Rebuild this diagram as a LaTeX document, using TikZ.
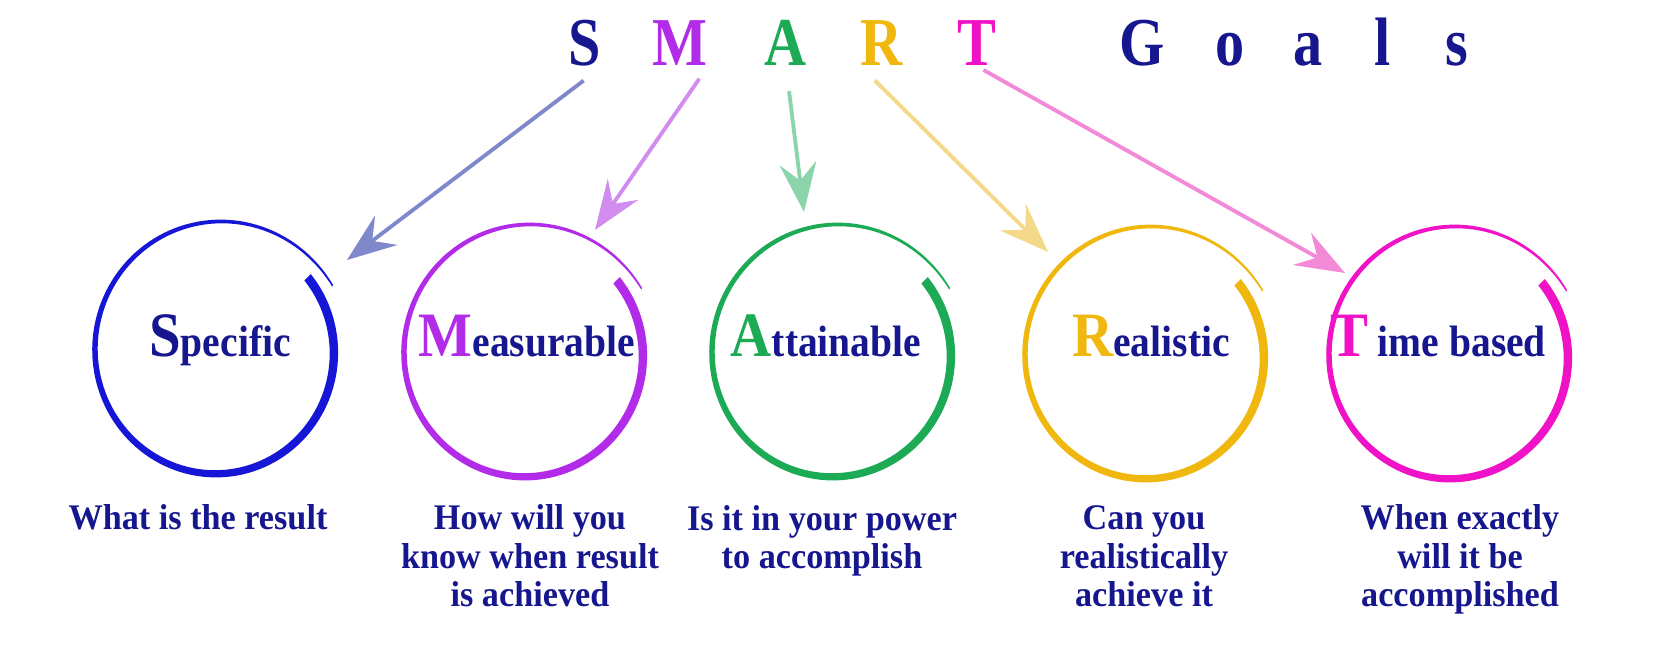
\documentclass[tikz,border=0pt]{standalone}
\usepackage{fontspec}
\setmainfont{Liberation Serif}
\newfontfamily\titlefont{Liberation Serif}[FakeStretch=0.85]
\newfontfamily\ringfont{Liberation Serif}[FakeStretch=0.9]
\newfontfamily\descfont{Liberation Serif}[FakeStretch=0.95]
\usetikzlibrary{arrows.meta}

\definecolor{navy}{HTML}{16168F}
\definecolor{sblue}{HTML}{1616D6}
\definecolor{mpurple}{HTML}{B12BE8}
\definecolor{agreen}{HTML}{1CAA55}
\definecolor{ryellow}{HTML}{F0B70F}
\definecolor{tpink}{HTML}{F012C6}
\definecolor{sarrow}{HTML}{8088CC}
\definecolor{marrow}{HTML}{D28CF0}
\definecolor{aarrow}{HTML}{8CD4AA}
\definecolor{rarrow}{HTML}{F4D98A}
\definecolor{tarrow}{HTML}{F28AD8}

\tikzset{
  titleletter/.style={font=\titlefont\bfseries\fontsize{39}{41}\selectfont, anchor=base, inner sep=0pt, text=navy},
  ringtext/.style={font=\ringfont\bfseries\fontsize{25}{28}\selectfont, anchor=base, inner sep=0pt, text=navy},
  desc/.style={font=\descfont\bfseries\fontsize{20.5}{22}\selectfont, align=center, anchor=base, inner sep=0pt, text=navy},
  goalarrow/.style={line width=2.2pt,
    -{Stealth[length=28pt, width=21pt, inset=10pt]}},
}

% 大首字母：#1 颜色, #2 字母
\newcommand{\goalinit}[2]{{\fontsize{36}{38}\selectfont\color{#1}#2}}

% 画笔圆环：#1 圆心, #2 颜色
\def\ringR{125}
\newcommand{\goalring}[2]{%
  \begin{scope}[shift={(#1)}, yscale=1.025]
    \fill[#2]
      plot[variable=\t, domain=0:1, samples=140]
        ({(\ringR*(0.93+0.05*\t+0.08*\t*\t*\t)+0.75+3.75*(1-\t)^0.7)*cos(39-370*\t)},
         {(\ringR*(0.93+0.05*\t+0.08*\t*\t*\t)+0.75+3.75*(1-\t)^0.7)*sin(39-370*\t)})
      -- plot[variable=\t, domain=1:0, samples=140]
        ({(\ringR*(0.93+0.05*\t+0.08*\t*\t*\t)-0.75-3.75*(1-\t)^0.7)*cos(39-370*\t)},
         {(\ringR*(0.93+0.05*\t+0.08*\t*\t*\t)-0.75-3.75*(1-\t)^0.7)*sin(39-370*\t)})
      -- cycle;
  \end{scope}%
}

\begin{document}
\begin{tikzpicture}[x=0.02cm, y=0.02cm]

\useasboundingbox (0,0) rectangle (1680,645);

%-----------------------
% 标题：S M A R T  G o a l s
%-----------------------
\node[titleletter]               (tS) at (585,579)  {S};
\node[titleletter, text=mpurple] (tM) at (680,579)  {M};
\node[titleletter, text=agreen]  (tA) at (786,579)  {A};
\node[titleletter, text=ryellow] (tR) at (882,579)  {R};
\node[titleletter, text=tpink]   (tT) at (977,579)  {T};

\node[titleletter] (gG) at (1142,579) {G};
\node[titleletter] (go) at (1230,579) {o};
\node[titleletter] (ga) at (1308,579) {a};
\node[titleletter] (gl) at (1383,579) {l};
\node[titleletter] (gs) at (1457,579) {s};

%-----------------------
% 圆心与箭头终点
%-----------------------
\coordinate (cS) at (217,293);
\coordinate (cM) at (526,290);
\coordinate (cA) at (834,290);
\coordinate (cR) at (1147,288);
\coordinate (cT) at (1451,288);

\coordinate (aS) at (347,385);
\coordinate (aM) at (595,415);
\coordinate (aA) at (804,433);
\coordinate (aR) at (1048,393);
\coordinate (aT) at (1345,372);

%-----------------------
% 圆环
%-----------------------
\goalring{cS}{sblue}
\goalring{cM}{mpurple}
\goalring{cA}{agreen}
\goalring{cR}{ryellow}
\goalring{cT}{tpink}

%-----------------------
% 箭头（浅色）
%-----------------------
\draw[goalarrow, color=sarrow, shorten <=0.45cm] (tS.south east) -- (aS);
\draw[goalarrow, color=marrow, shorten <=0.3cm]  (tM.south east) -- (aM);
\draw[goalarrow, color=aarrow, shorten <=0.5cm]  (tA.south)      -- (aA);
\draw[goalarrow, color=rarrow, shorten <=0.4cm]  (tR.south west) -- (aR);
\draw[goalarrow, color=tarrow, shorten <=0.15cm] (tT.south)      -- (aT);

%-----------------------
% 圆内文字
%-----------------------
\node[ringtext] (spec) at (220,288)  {\goalinit{navy}{S}pecific};
\node[ringtext] (meas) at (527,288)  {\goalinit{mpurple}{M}easurable};
\node[ringtext] (atta) at (826,288)  {\goalinit{agreen}{A}ttainable};
\node[ringtext] (real) at (1151,288) {\goalinit{ryellow}{R}ealistic};
\node[ringtext] (time) at (1438,288) {\goalinit{tpink}{T} ime based};

%-----------------------
% 下方说明（基线取最后一行）
%-----------------------
\node[desc] (dS) at (198,115) {What is the result};
\node[desc] (dM) at (530,38)  {How will you\\know when result\\is achieved};
\node[desc] (dA) at (822,76)  {Is it in your power\\to accomplish};
\node[desc] (dR) at (1144,38) {Can you\\realistically\\achieve it};
\node[desc] (dT) at (1460,38) {When exactly\\will it be\\accomplished};

\end{tikzpicture}
\end{document}
